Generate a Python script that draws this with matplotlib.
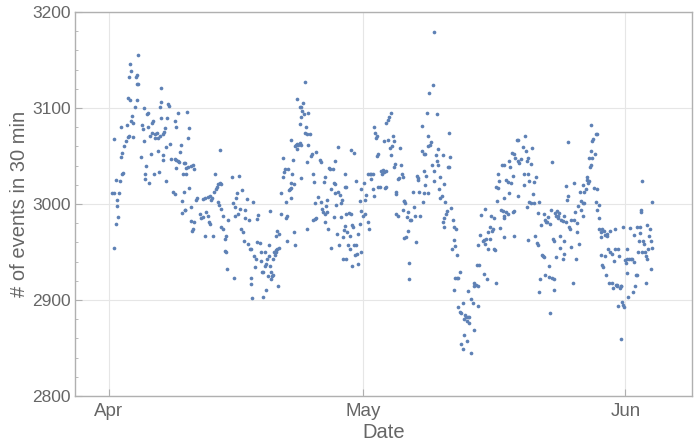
import numpy as np
import pandas as pd
import matplotlib
matplotlib.use("Agg")
import matplotlib.pyplot as plt
import matplotlib.dates as mdates
from matplotlib.ticker import MultipleLocator

# Days since Apr 1 (fractional) and counts
days_a = [0.59,0.79,1.10,0.98,0.98,1.18,0.59,0.39,0.79,1.30,1.57,1.69,0.59,1.42,1.57,1.81,1.97,2.20,2.36,2.87,
          1.42,2.08,2.60,2.75,2.87,2.20,2.48,3.07,3.34,2.36,2.60,2.48,3.15,3.34,3.26,3.46,3.46,3.77,3.85,3.97,
          4.13,4.17,4.36,4.25,4.25,4.68,4.56,4.44,4.64,4.84,4.95,5.03,5.11,5.23,5.35,5.43,5.43,5.62,5.74,5.82,
          6.01,5.94,6.13,6.21,6.01,6.13,6.41,6.53,6.41,6.41,6.68,6.84,6.80,6.80,7.00,7.08,7.19,7.31,7.78,7.94,
          7.98,8.18,8.25,8.37,8.49,7.86,7.98,8.18,7.59,7.78,8.65,8.65,8.80,8.88,8.88,8.96]
vals_a = [2954,2979,2986,2998,3004,3012,3011,3011,3025,3024,3031,3032,3068,3049,3053,3060,3066,3070,3071,3070,
          3080,3082,3086,3092,3084,3110,3108,3101,3108,3132,3139,3146,3132,3134,3125,3125,3155,3049,3082,3078,
          3066,3100,3040,3031,3026,3022,3080,3094,3095,3071,3052,3074,3084,3086,3031,3073,3069,3074,3069,3055,
          3071,3033,3090,3121,3101,3106,3073,3075,3051,3046,3079,3090,3059,3024,3104,3102,3063,3047,3047,3046,
          3038,3045,3044,3054,3062,3087,3080,3095,3013,3010,3003,2991,3031,3043,3013,2994]

days_b = [9.27,9.47,9.35,8.96,9.16,9.35,9.75,9.94,10.06,9.16,9.43,8.96,9.75,9.67,10.06,9.94,9.82,10.34,10.41,11.12,
          11.32,11.71,11.91,12.03,12.18,12.42,12.58,12.69,12.81,12.89,13.09,13.20,13.09,12.89,12.97,10.73,10.93,11.12,11.51,11.71,
          11.79,11.91,11.40,12.30,13.28,13.48,13.28,13.48,13.68,13.87,13.68,13.87,13.95,14.07,14.54,14.78,14.66,14.86,14.86,15.05,
          15.17,15.25,15.33,15.44,15.56,15.72,15.84,15.96,16.03,16.11,16.35,16.43,16.62,16.51,16.82,16.74,16.82,16.90,17.02,17.13,
          17.29,17.41,17.53,17.61,17.53,17.80,17.92,18.00,18.08,18.20,18.20,18.39]
vals_b = [3096,3079,3069,3043,3038,3039,3040,3041,3036,3031,3017,2994,2997,2982,2981,2974,2972,3004,3006,3005,
          3006,3007,3008,3004,3006,3013,3031,3016,3018,3021,3022,3021,3056,3002,2999,2990,2985,2987,2992,2988,
          2981,2979,2967,2967,2995,2988,2976,2974,2964,2967,2951,2950,2932,2983,3028,2923,3001,2997,2988,3006,
          3011,2990,3029,2995,2974,3015,2971,2961,2994,2985,3005,2958,2953,2983,2953,2923,2917,2902,3002,2946,
          2934,2943,2984,2989,2960,2959,2950,2941,2929,2929,2903,2950]

days_c = [18.48,18.60,18.71,18.60,18.79,18.87,18.95,19.03,19.11,19.19,19.26,19.38,19.38,19.50,19.58,19.70,19.78,19.89,19.97,20.05,
          19.78,19.89,20.05,19.03,20.29,20.37,20.56,20.56,20.68,20.84,20.95,20.95,21.07,21.07,21.15,21.23,21.35,21.47,21.54,21.47,
          21.62,21.74,21.47,21.86,21.86,21.94,22.02,22.13,22.21,22.25,22.33,22.53,22.72,22.64,22.53,22.64,22.72,22.80,22.92,23.04,
          22.25,22.53,23.12,23.19,23.31,23.43,23.51,23.71,23.51,23.43,23.43,23.82,23.98,24.10,24.22,24.30,24.10,24.30,24.49,24.49,
          24.69,24.88,25.08,25.00,25.16,25.28,25.40,25.47,25.55,25.55,25.67,25.79,25.87,25.79,25.95,26.06,26.26,26.26,26.46,26.57,
          26.65,26.65,26.57,26.73,26.85,26.97,27.05,27.05,27.12,27.24,27.36,27.44,27.52,27.64,27.67,27.75,27.83]
vals_c = [2935,2910,2943,2938,2925,2957,2946,2935,2922,2929,2925,2943,2926,2950,2947,2950,2952,2953,2915,2954,
          2967,2972,2969,2993,2990,3012,3028,3048,3033,3036,3002,2985,2988,2962,3036,3015,3016,3017,3022,3006,
          3031,3046,3067,2971,3021,2957,3060,3062,3063,3057,3061,3064,3062,3027,3083,3091,3101,3097,3105,3094,
          3109,3101,3127,3074,3080,3073,3095,3073,3062,2974,3044,3050,3052,3031,3023,3001,2983,2984,2985,3054,
          3007,3046,3044,3002,2995,2992,3023,2990,3028,2981,2998,2992,2974,3004,3038,3036,3016,2954,3036,3022,
          3045,3011,2986,3021,2999,2969,3059,3013,2957,3009,3001,2986,3004,2943,2966,2973,3018]

days_d = [27.83,28.03,28.03,28.30,28.62,27.91,28.14,28.42,28.69,28.81,28.22,28.42,28.93,29.21,28.69,29.01,29.32,29.48,29.72,28.03,
          28.62,28.93,29.21,29.40,29.60,29.72,29.60,29.80,29.99,30.11,30.19,30.27,30.38,30.58,30.66,30.70,30.78,30.90,30.97,31.17,
          31.29,31.17,31.29,31.45,31.56,31.68,31.76,31.68,31.84,32.07,32.15,32.23,32.35,32.47,32.55,32.62,32.74,32.74,32.74,32.94,
          32.94,33.14,33.33,33.25,33.33,33.41,33.53,33.65,33.73,33.80,33.92,33.92,33.92,34.12,34.20,34.31,34.43,34.51,34.59,34.71,
          34.71,34.83,34.83,34.90,34.98,35.10,35.22,35.30,35.38,35.49,35.49,35.61,35.69,35.89,36.08,36.16,36.28,36.40,36.48,36.55,
          36.67,36.79,36.95,37.03,37.07,37.18,37.26]
vals_d = [3031,3018,2990,2991,2990,2977,2971,2967,2978,2976,2957,2953,2957,2957,2935,2947,2948,2938,2950,2943,
          3056,3053,3024,2969,2979,3016,3003,2993,2988,3022,3004,2990,3009,3031,2981,2974,3031,3031,3026,3031,
          3008,3016,3080,3074,3069,3071,3052,3050,3018,3018,3034,3031,3035,3033,3066,3017,3018,3034,3084,3088,
          3067,3091,3095,3058,3051,3060,3071,3066,3039,3042,3013,3010,2990,3026,2988,3027,3058,3041,3031,2994,
          3028,3003,2965,3003,3001,2966,2986,2992,2972,2939,2922,2983,2983,3013,2997,2988,2960,3029,3027,3025,
          3013,2988,3055,3081,3002,3052,3011]

days_e = [37.34,37.26,37.46,37.38,37.73,37.65,37.57,37.73,37.97,38.05,37.85,38.24,38.36,38.12,38.36,38.44,38.64,38.75,38.83,38.91,
          38.75,39.15,39.03,39.15,39.30,39.42,39.54,39.70,39.81,39.93,40.01,40.21,40.21,40.33,40.40,39.42,39.62,39.54,40.60,40.80,
          40.99,40.48,40.72,40.88,41.11,40.88,41.11,41.27,41.50,40.80,41.27,41.50,41.58,41.78,41.90,42.05,42.17,42.29,42.37,42.57,
          42.57,41.90,41.58,41.78,42.29,42.76,42.76,42.96,43.08,43.16,43.16,43.35,43.55,43.63,42.45,43.47,43.74,43.63,43.86,43.94,
          44.14,44.26,44.41,44.33,44.41,44.53,44.65,44.73,44.81,44.96,45.04,45.12,45.20,45.32,45.43,45.51,45.59,45.71,45.71,45.83,
          45.91,45.98,46.10,46.22,46.30,46.38,46.50,46.61,46.61,46.69]
vals_e = [3052,3034,3029,3020,3012,3071,3095,3060,3062,3065,3116,3124,3179,3041,3034,3024,3051,3045,3057,3041,
          3094,3028,3016,3006,3008,3051,3021,3002,2990,2993,3039,3039,3074,3049,2996,2981,2976,2985,2983,2976,
          2974,2953,2963,2956,2947,2923,2923,2923,2929,2910,2893,2888,2887,2897,2880,2884,2882,2878,2882,2882,
          2876,2864,2854,2849,2857,2845,2901,2897,2869,2918,2915,2916,2915,2894,2909,2936,2937,2957,2968,2989,
          2962,2963,2995,2927,2958,2964,2922,2953,2971,2964,2976,2988,2972,2974,2985,2953,2952,2918,3018,3003,
          3017,3031,3024,2975,2994,3041,2993,2988,2966,3006]

days_f = [46.70,46.90,47.09,47.29,47.41,47.56,47.68,47.88,47.96,48.19,48.35,48.27,48.47,48.67,48.27,47.29,47.49,46.90,47.17,46.70,
          47.68,47.88,47.80,48.86,49.06,49.14,49.26,49.37,49.45,49.06,49.53,49.65,49.84,49.92,50.04,49.65,49.84,50.16,50.24,50.43,
          50.63,50.83,49.37,49.53,50.32,50.55,50.63,51.10,51.22,51.34,51.02,51.34,51.49,51.61,51.73,51.89,52.01,52.12,52.20,52.28,
          52.28,52.52,52.40,52.52,52.60,52.67,52.79,52.79,52.91,52.99,53.07,53.18,53.30,53.30,53.38,53.58,53.58,53.70,53.77,53.77,
          53.97,53.97,54.09,54.17,54.25,54.36,54.48,54.56,54.64,54.76,54.95,54.95,55.03,55.15,55.27,55.27,55.35,55.54,55.66,55.74,
          55.82,55.94,55.94,56.05,56.13,52.12,50.83,50.94,51.49,52.01]
vals_f = [3041,3025,3023,3045,3039,3053,3029,3052,3048,3067,3067,3045,3043,3047,3008,3011,3022,2992,2990,2985,
          2992,2993,2967,3059,3031,3071,3055,3045,3048,3020,3031,3024,3042,3058,3010,3002,3001,3001,3023,3028,
          2991,3002,2997,2963,2967,2959,2957,2947,2946,2945,2978,2990,2983,2981,2981,2986,2935,2979,2994,3044,
          2923,2922,2964,2962,2910,2991,2945,2988,2993,2988,2985,2991,2967,2954,2983,2982,2943,2948,2962,2988,
          2981,3019,3004,3065,3008,2976,2974,2983,2955,2918,3022,2983,2992,2943,2971,2980,2998,2958,3013,3003,
          2994,3001,3020,2988,3001,2886,2908,2922,2926,2924]

days_g = [56.13,56.33,56.44,56.52,56.60,56.72,56.72,56.84,56.92,57.11,57.00,57.11,57.23,57.00,57.62,57.51,57.31,57.39,57.70,57.51,
          57.62,57.90,57.90,57.90,58.10,58.17,58.29,58.49,58.57,58.80,58.88,59.20,59.75,60.77,61.55,58.10,58.29,58.41,58.57,58.68,
          58.96,59.08,59.20,59.47,59.47,59.59,59.67,59.75,59.86,59.98,60.06,60.14,60.26,60.37,60.45,60.53,60.18,60.65,60.85,60.77,
          60.45,60.92,61.04,61.16,61.16,61.24,61.32,61.44,61.63,61.83,61.95,62.03,62.10,62.03,62.22,62.42,62.34,62.50,62.61,62.73,
          62.73,62.89,62.89,63.01,63.01,63.13,63.20,63.28,63.40,63.40,63.52,63.60,63.68,63.79,63.91,63.99,63.99,64.19,64.19]
vals_g = [3013,3016,3025,3028,3022,3024,3048,3039,3041,3048,3055,3066,3068,3082,3073,3073,3017,3052,3016,3002,
          2994,2999,2985,2974,2966,2971,2974,2972,2968,2967,2969,2972,2974,2976,2975,2947,2936,2934,2946,2926,
          2953,2918,2950,2948,2918,2913,2941,2953,2916,2915,2916,2953,2946,2913,2915,2915,2894,2898,2893,2895,
          2859,2942,2939,2943,2928,2953,2903,2943,2943,2943,2908,2940,2915,2968,2926,2926,2976,2950,2961,2970,
          2976,2992,2994,3024,2950,2961,2958,2950,2918,2946,2978,2943,2953,2967,2974,2961,2932,2954,3002]

days = np.array(days_a + days_b + days_c + days_d + days_e + days_f + days_g)
counts = np.array(vals_a + vals_b + vals_c + vals_d + vals_e + vals_f + vals_g)

start = pd.Timestamp("2016-04-01")
dates = start + pd.to_timedelta(days, unit="D")

y_ticks = [2800, 2900, 3000, 3100, 3200]
x_label = "Date"
y_label = "# of events in 30 min"

plt.rcParams["font.family"] = ["Liberation Sans", "DejaVu Sans"]

fig = plt.figure(figsize=(6.95, 4.45), dpi=100)
ax = fig.add_axes([0.108, 0.110, 0.888, 0.863])

ax.scatter(dates, counts, s=7, color="#5E81B5", linewidths=0, zorder=3)

ax.set_ylim(2800, 3200)
ax.set_xlim(start - pd.Timedelta(days=4.0), start + pd.Timedelta(days=68.9))
ax.set_yticks(y_ticks)
ax.yaxis.set_minor_locator(MultipleLocator(20))
ax.xaxis.set_major_locator(mdates.MonthLocator())
ax.xaxis.set_major_formatter(mdates.DateFormatter("%b"))

frame_col = "#b0b0b0"
txt_col = "#666666"
for sp in ax.spines.values():
    sp.set_color(frame_col)
    sp.set_linewidth(1.0)

ax.tick_params(axis="both", which="major", direction="in", length=5, width=0.8,
               color=frame_col, labelcolor=txt_col)
ax.tick_params(axis="y", which="minor", direction="in", length=2.5, width=0.6, color=frame_col)
ax.tick_params(axis="y", which="major", pad=3, labelsize=12.5)
ax.tick_params(axis="x", which="major", pad=5, labelsize=13.5)

ax.grid(True, which="major", color="#e6e6e6", linewidth=0.8, zorder=0)
ax.set_axisbelow(True)

ax.set_xlabel(x_label, fontsize=14.5, color=txt_col, labelpad=2)
ax.set_ylabel(y_label, fontsize=14.5, color=txt_col, labelpad=2)

fig.savefig("out.png", dpi=100)
